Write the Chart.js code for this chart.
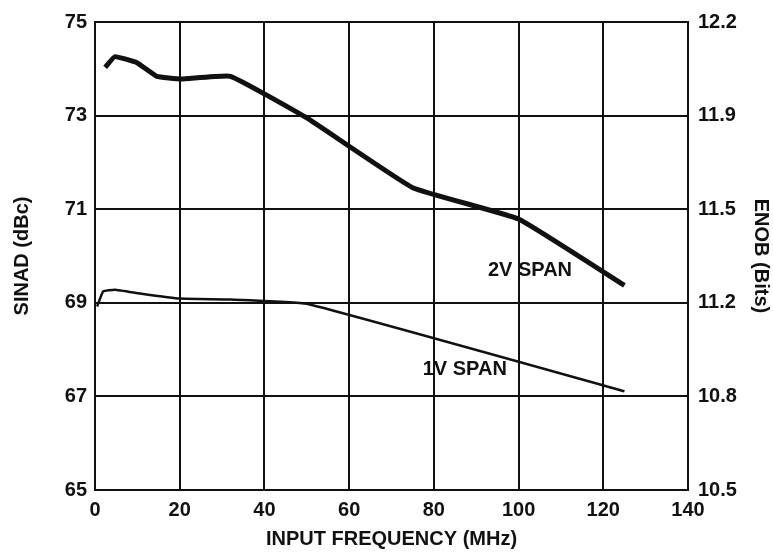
<!DOCTYPE html>
<html>
<head>
<meta charset="utf-8">
<script src="https://cdn.jsdelivr.net/npm/chart.js@4.4.1/dist/chart.umd.min.js"></script>
<style>
  html, body { margin: 0; padding: 0; background: #fff; }
  canvas { display: block; }
</style>
</head>
<body>
<canvas id="myChart" width="773" height="552"></canvas>
<script>
// 2V span curve
const freq2V = [2.4, 4.7, 9.9, 14.6, 20.3, 32, 50, 75, 100, 125];
const sinad2V = [74.03, 74.26, 74.13, 73.84, 73.78, 73.84, 72.95, 71.46, 70.79, 69.37];
// 1V span curve
const freq1V = [0.5, 1.9, 4.7, 10.6, 20, 32, 50, 125];
const sinad1V = [68.92, 69.24, 69.28, 69.2, 69.09, 69.07, 68.98, 67.11];
// right axis labels (ENOB) that sit on the SINAD gridlines 65..75
const enobLabels = ['10.5', '10.8', '11.2', '11.5', '11.9', '12.2'];
const curveLabels = [
    { text: '2V SPAN', x: 102.7, y: 69.7 },
    { text: '1V SPAN', x: 87.3, y: 67.57 }
];

const toPoints = (xs, ys) => xs.map((x, i) => ({ x: x, y: ys[i] }));
const font = { family: "'Liberation Sans', Arial, sans-serif", weight: 'bold', size: 20 };
const ink = '#111';

const curveText = {
    id: 'curveText',
    afterDatasetsDraw(chart) {
        const c = chart.ctx;
        const xs = chart.scales.x, ys = chart.scales.y;
        c.save();
        c.font = "bold 20px 'Liberation Sans', Arial, sans-serif";
        c.fillStyle = ink;
        c.textAlign = 'center';
        c.textBaseline = 'middle';
        curveLabels.forEach(l => {
            c.fillText(l.text, xs.getPixelForValue(l.x), ys.getPixelForValue(l.y));
        });
        c.restore();
    }
};

const ctx = document.getElementById('myChart');

new Chart(ctx, {
    type: 'line',
    data: {
        datasets: [{
            label: '2V SPAN',
            data: toPoints(freq2V, sinad2V),
            borderColor: ink,
            borderWidth: 5,
            pointRadius: 0,
            tension: 0.1,
            borderJoinStyle: 'round'
        }, {
            label: '1V SPAN',
            data: toPoints(freq1V, sinad1V),
            borderColor: ink,
            borderWidth: 2.5,
            pointRadius: 0,
            tension: 0.1
        }]
    },
    plugins: [curveText],
    options: {
        responsive: false,
        animation: false,
        layout: { padding: { top: 16, left: 0, right: 0, bottom: 0 } },
        plugins: {
            legend: { display: false },
            tooltip: { enabled: false }
        },
        scales: {
            x: {
                type: 'linear',
                min: 0,
                max: 140,
                ticks: { stepSize: 20, color: ink, font: font, padding: 8, maxRotation: 0 },
                grid: { color: ink, lineWidth: 2, drawTicks: false },
                border: { color: ink, width: 2 },
                title: { display: true, text: 'INPUT FREQUENCY (MHz)', color: ink, font: font, padding: { top: 0, bottom: 1 } },
                afterFit: (s) => { s.height = 62; }
            },
            y: {
                position: 'left',
                min: 65,
                max: 75,
                ticks: { stepSize: 2, color: ink, font: font, padding: 8 },
                grid: { color: ink, lineWidth: 2, drawTicks: false },
                border: { color: ink, width: 2 },
                title: { display: true, text: 'SINAD (dBc)', color: ink, font: font, padding: { top: 10, bottom: 0 } },
                afterFit: (s) => { s.width = 95; }
            },
            y2: {
                position: 'right',
                min: 65,
                max: 75,
                ticks: {
                    stepSize: 2, color: ink, font: font, padding: 10,
                    callback: (v) => enobLabels[Math.round((v - 65) / 2)]
                },
                grid: { display: false, drawTicks: false },
                border: { color: ink, width: 2 },
                title: { display: true, text: 'ENOB (Bits)', color: ink, font: font, padding: { top: 0, bottom: 0 } },
                afterFit: (s) => { s.width = 85; }
            }
        }
    }
});
</script>
</body>
</html>
